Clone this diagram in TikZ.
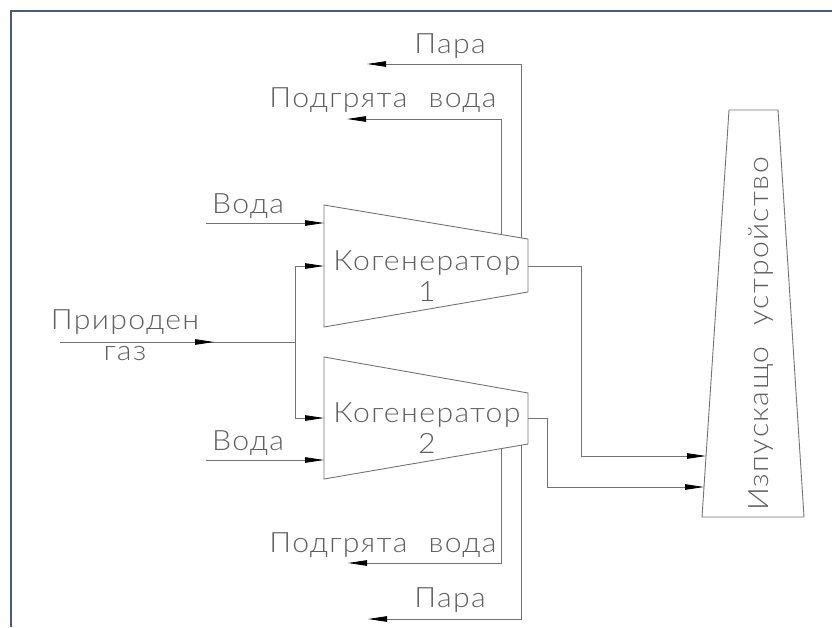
\documentclass[tikz,border=0pt]{standalone}
\usepackage{fontspec}
\setmainfont{Lato Light}[FakeStretch=1.08,LetterSpace=5,WordSpace=2.2]
\usetikzlibrary{arrows.meta}
\definecolor{frameblue}{RGB}{74,90,114}
\definecolor{linegray}{RGB}{115,115,115}
\definecolor{textgray}{RGB}{95,95,95}
\begin{document}
\begin{tikzpicture}[x=1pt,y=-1pt,
  wire/.style={draw=linegray,line width=0.8pt},
  flow/.style={wire,-{Triangle[length=19pt,width=5.5pt,color=black]}},
  unit/.style={draw=linegray,line width=0.9pt,line join=miter},
  lbl/.style={text=textgray,font=\fontsize{28}{31}\selectfont,inner sep=0pt,anchor=base},
  twoline/.style={lbl,align=center,anchor=north}
]
\useasboundingbox (0,0) rectangle (832,627);

% sheet frame (top and left edges)
\draw[frameblue,line width=2.4pt] (11,627) -- (11,11) -- (832,11);

% --- cogeneration unit 1 ---
\coordinate (k1a) at (324,205);
\coordinate (k1b) at (528,239);
\coordinate (k1c) at (528,292);
\coordinate (k1d) at (324,327);
\draw[unit] (k1a) -- (k1b) -- (k1c) -- (k1d) -- cycle;
\coordinate (k1water) at (324,223);
\coordinate (k1gas)   at (324,266);
\coordinate (k1ex)    at (528,266);
\coordinate (k1hot)   at (501,234.5);
\coordinate (k1steam) at (521,237.8);

% --- cogeneration unit 2 ---
\coordinate (k2a) at (324,357);
\coordinate (k2b) at (528,393);
\coordinate (k2c) at (528,444);
\coordinate (k2d) at (324,479);
\draw[unit] (k2a) -- (k2b) -- (k2c) -- (k2d) -- cycle;
\coordinate (k2gas)   at (324,418);
\coordinate (k2water) at (324,460);
\coordinate (k2ex)    at (528,418);
\coordinate (k2hot)   at (501,448.6);
\coordinate (k2steam) at (521,445.2);

% --- exhaust stack ---
\coordinate (sta) at (729,110);
\coordinate (stb) at (778,110);
\coordinate (stc) at (804,517);
\coordinate (std) at (702,517);
\draw[unit] (sta) -- (stb) -- (stc) -- (std) -- cycle;
\coordinate (stin1) at (706,456);
\coordinate (stin2) at (704,487);

% --- free ends of the flows ---
\coordinate (steamout1) at (367,64);
\coordinate (hotout1)   at (347,119);
\coordinate (hotout2)   at (348,563);
\coordinate (steamout2) at (368,619);
\coordinate (water1in)  at (206,223);
\coordinate (water2in)  at (206,460);
\coordinate (gasin)     at (60,342);
\coordinate (gasmid)    at (214,342);
\coordinate (gasjoint)  at (295,342);
\coordinate (ex1bend)   at (581,456);
\coordinate (ex2bend)   at (547,487);

% outputs of unit 1
\draw[flow] (k1steam) |- (steamout1);
\draw[flow] (k1hot) |- (hotout1);
% outputs of unit 2
\draw[flow] (k2hot) |- (hotout2);
\draw[flow] (k2steam) |- (steamout2);
% water inputs
\draw[flow] (water1in) -- (k1water);
\draw[flow] (water2in) -- (k2water);
% natural gas supply and split
\draw[wire] (gasin) -- (gasjoint);
\draw[flow] (gasin) -- (gasmid);
\draw[flow] (gasjoint) |- (k1gas);
\draw[flow] (gasjoint) |- (k2gas);
% exhaust to the stack
\draw[flow] (k1ex) -| (ex1bend) -- (stin1);
\draw[flow] (k2ex) -| (ex2bend) -- (stin2);

% --- labels ---
\node[lbl] (tsteam1) at (450,53)  {Пара};
\node[lbl] (thot1)   at (383,107) {Подгрята вода};
\node[lbl] (twater1) at (248,213) {Вода};
\node[twoline] (tk1) at (427,250) {Когенератор\\1};
\node[twoline] (tgas) at (125,309) {Природен\\газ};
\node[twoline] (tk2) at (427,402) {Когенератор\\2};
\node[lbl] (twater2) at (248,450) {Вода};
\node[lbl] (thot2)   at (383,552) {Подгрята вода};
\node[lbl] (tsteam2) at (450,607) {Пара};
\node[lbl,rotate=90] (tstack) at (768,334) {Изпускащо устройство};
\end{tikzpicture}
\end{document}
